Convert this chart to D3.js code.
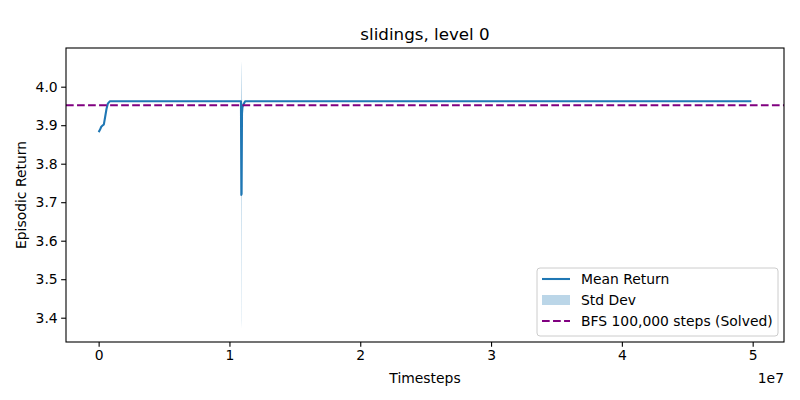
<!DOCTYPE html>
<html>
<head>
<meta charset="utf-8">
<script src="https://cdn.jsdelivr.net/npm/d3@7"></script>
<style>
  body { margin: 0; background: #fff; }
  svg { display: block; font-family: "DejaVu Sans", sans-serif; }
</style>
</head>
<body>
<svg id="chart" width="800" height="400"></svg>
<script>
// Data (timesteps in units of 1e7)
const timesteps = [0.0, 0.01, 0.02, 0.03, 0.04, 0.05, 0.06, 0.07, 0.085, 0.10, 0.5, 1.0, 1.086, 1.088, 1.091, 1.093, 1.096, 1.099, 1.104, 1.12, 1.2, 2.0, 3.0, 4.0, 4.99];
const meanReturn = [3.882, 3.888, 3.896, 3.899, 3.902, 3.922, 3.942, 3.956, 3.962, 3.962, 3.962, 3.962, 3.962, 3.962, 3.719, 3.722, 3.93, 3.945, 3.952, 3.962, 3.962, 3.962, 3.962, 3.962, 3.962];
const stdDev = [0.0, 0.0, 0.0, 0.0, 0.0, 0.0, 0.0, 0.0, 0.0, 0.0, 0.0, 0.0, 0.0, 0.004, 0.347, 0.33, 0.04, 0.012, 0.004, 0.0, 0.0, 0.0, 0.0, 0.0, 0.0];
const bfsSolved = 3.952;
const xTicks = [0, 1, 2, 3, 4, 5];
const yTicks = [3.4, 3.5, 3.6, 3.7, 3.8, 3.9, 4.0];
const titleText = "slidings, level 0";
const legendLabels = ["Mean Return", "Std Dev", "BFS 100,000 steps (Solved)"];

const svg = d3.select("#chart");
const L = 66, R = 784, T = 48, B = 342;

const x = d3.scaleLinear().domain([-0.2495, 5.2395]).range([L, R]);
const y = d3.scaleLinear().domain([3.3369, 4.1005]).range([B, T]);

const blue = "#1f77b4";
const purple = "purple";
const dash = "7.7,3.33";

const data = timesteps.map((t, i) => ({t, m: meanReturn[i], s: stdDev[i]}));

const g = svg.append("g");

svg.append("clipPath").attr("id", "clip").append("rect")
  .attr("x", L).attr("y", T).attr("width", R - L).attr("height", B - T);
const plot = g.append("g").attr("clip-path", "url(#clip)");

// std band
plot.append("path")
  .datum(data)
  .attr("fill", blue)
  .attr("fill-opacity", 0.3)
  .attr("d", d3.area().x(d => x(d.t)).y0(d => y(d.m - d.s)).y1(d => y(d.m + d.s)));

// mean line
plot.append("path")
  .datum(data)
  .attr("fill", "none")
  .attr("stroke", blue)
  .attr("stroke-width", 2.08)
  .attr("stroke-linejoin", "round")
  .attr("d", d3.line().x(d => x(d.t)).y(d => y(d.m)));

// BFS line
plot.append("line")
  .attr("x1", L).attr("x2", R)
  .attr("y1", y(bfsSolved)).attr("y2", y(bfsSolved))
  .attr("stroke", purple).attr("stroke-width", 2.08)
  .attr("stroke-dasharray", dash);

// axes
const xAxis = d3.axisBottom(x).tickValues(xTicks).tickFormat(d3.format("d")).tickSizeOuter(0).tickSize(4.86).tickPadding(3.5);
const yAxis = d3.axisLeft(y).tickValues(yTicks).tickFormat(d3.format(".1f")).tickSizeOuter(0).tickSize(4.86).tickPadding(3.5);

const gx = g.append("g").attr("transform", `translate(0,${B})`).call(xAxis);
const gy = g.append("g").attr("transform", `translate(${L},0)`).call(yAxis);
[gx, gy].forEach(a => {
  a.select(".domain").remove();
  a.selectAll("text").attr("font-size", 13.9).attr("fill", "#000").attr("font-family", "DejaVu Sans, sans-serif");
  a.selectAll("line").attr("stroke", "#000").attr("stroke-width", 1.1);
});

// frame
g.append("rect").attr("x", L).attr("y", T).attr("width", R - L).attr("height", B - T)
  .attr("fill", "none").attr("stroke", "#000").attr("stroke-width", 1.1);

// title and labels
svg.append("text").attr("x", (L + R) / 2).attr("y", T - 8).attr("text-anchor", "middle")
  .attr("font-size", 16.7).text(titleText);
svg.append("text").attr("x", (L + R) / 2).attr("y", 383).attr("text-anchor", "middle")
  .attr("font-size", 13.9).text("Timesteps");
svg.append("text").attr("x", R).attr("y", 383).attr("text-anchor", "end")
  .attr("font-size", 13.9).text("1e7");
svg.append("text").attr("transform", `translate(26,${(T + B) / 2}) rotate(-90)`).attr("text-anchor", "middle")
  .attr("font-size", 13.9).text("Episodic Return");

// legend
const lg = svg.append("g").attr("transform", "translate(537,268)");
lg.append("rect").attr("x", 0).attr("y", 0).attr("width", 241).attr("height", 68).attr("rx", 3)
  .attr("fill", "#fff").attr("fill-opacity", 0.8).attr("stroke", "#ccc").attr("stroke-width", 1);
const rows = [11, 32, 53];
lg.append("line").attr("x1", 5).attr("x2", 33).attr("y1", rows[0]).attr("y2", rows[0])
  .attr("stroke", blue).attr("stroke-width", 2.08);
lg.append("rect").attr("x", 5).attr("y", rows[1] - 5).attr("width", 28).attr("height", 10)
  .attr("fill", blue).attr("fill-opacity", 0.3);
lg.append("line").attr("x1", 5).attr("x2", 33).attr("y1", rows[2]).attr("y2", rows[2])
  .attr("stroke", purple).attr("stroke-width", 2.08).attr("stroke-dasharray", dash);
legendLabels.forEach((t, i) => {
  lg.append("text").attr("x", 44).attr("y", rows[i]).attr("dy", "0.35em")
    .attr("font-size", 13.9).text(t);
});
</script>
</body>
</html>
